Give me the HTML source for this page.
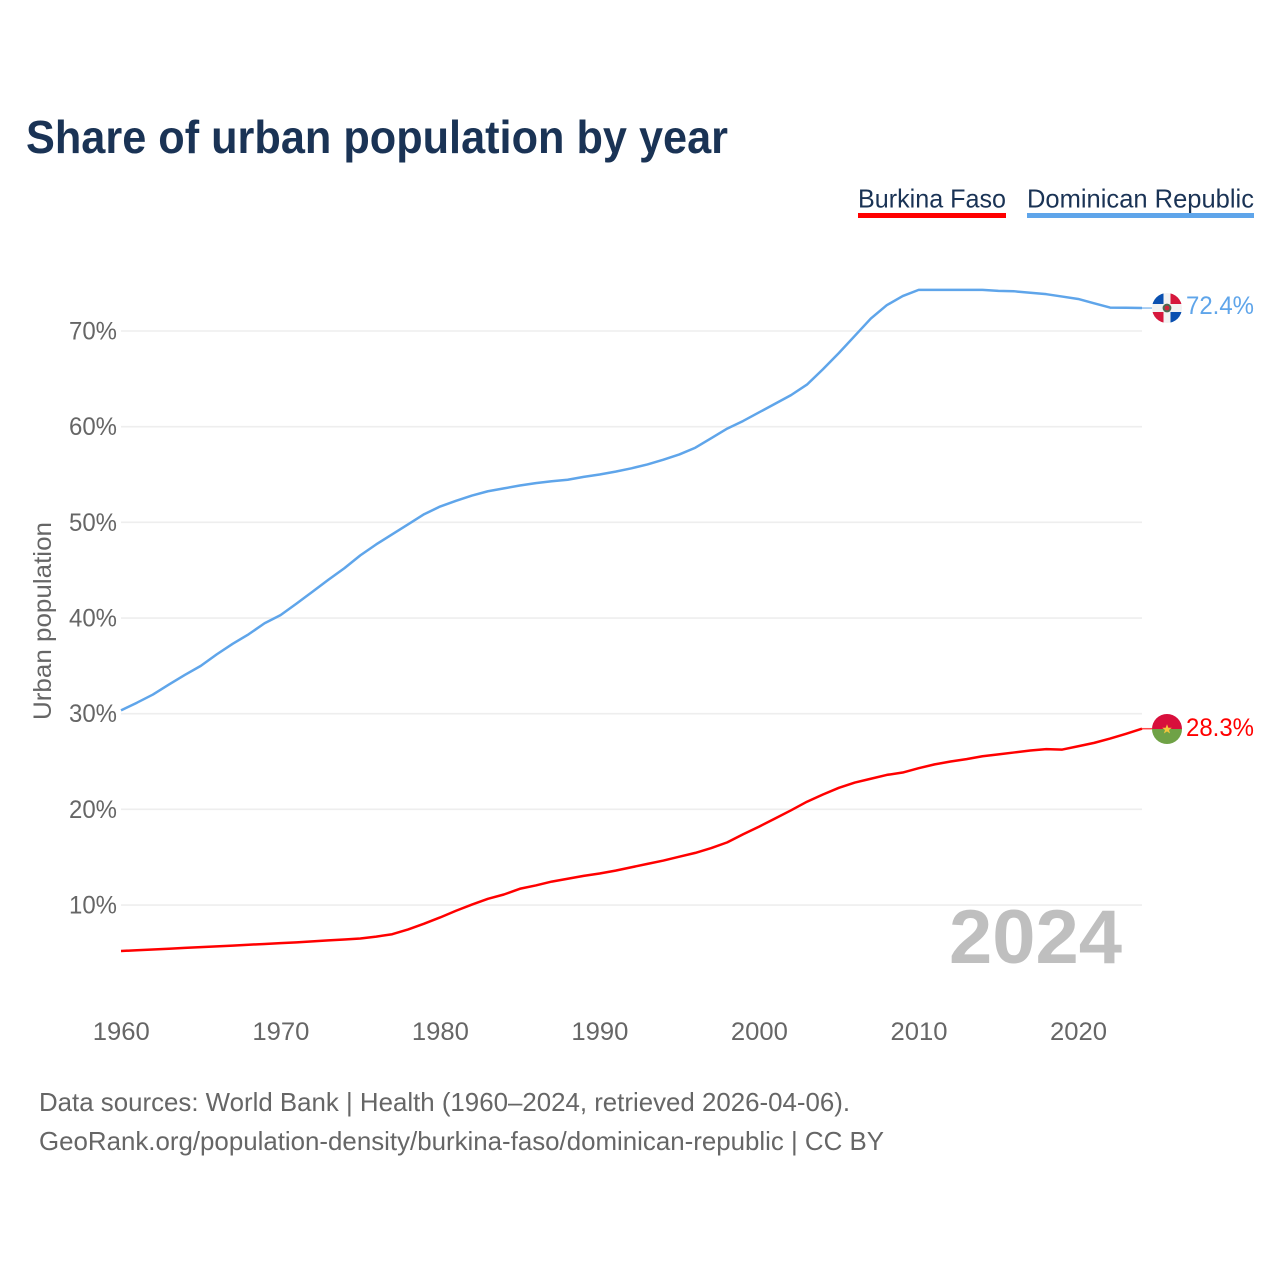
<!DOCTYPE html>
<html lang="en">
<head>
<meta charset="utf-8">
<title>Share of urban population by year</title>
<style>
html,body{margin:0;padding:0;background:#fff;}
svg{display:block;font-family:"Liberation Sans",sans-serif;}
</style>
</head>
<body>
<svg id="chart" width="1280" height="1280" viewBox="0 0 1280 1280" xmlns="http://www.w3.org/2000/svg">
  <rect x="0" y="0" width="1280" height="1280" fill="#ffffff"/>
  <text x="26" y="153" font-size="46" font-weight="700" fill="#1a3355" textLength="702" lengthAdjust="spacingAndGlyphs">Share of urban population by year</text>

  <g>
    <text x="858" y="207.5" font-size="26" fill="#1a3355" textLength="148" lengthAdjust="spacingAndGlyphs">Burkina Faso</text>
    <rect x="858" y="213" width="148" height="5" fill="#ff0000"/>
  </g>
  <g>
    <text x="1027" y="207.5" font-size="26" fill="#1a3355" textLength="227" lengthAdjust="spacingAndGlyphs">Dominican Republic</text>
    <rect x="1027" y="213" width="227" height="5" fill="#5fa5ea"/>
  </g>

  <g id="grid"></g>
  <g id="yticks"></g>
  <g id="xticks"></g>

  <text transform="translate(51 720) rotate(-90)" x="0" y="0" font-size="25" fill="#666666" textLength="198" lengthAdjust="spacingAndGlyphs">Urban population</text>
  <text x="949" y="963" font-size="76" font-weight="700" fill="#bfbfbf" textLength="173" lengthAdjust="spacingAndGlyphs">2024</text>

  <g id="series"></g>

  <defs>
    <clipPath id="flag-dr-clip"><circle cx="1167" cy="308" r="15"/></clipPath>
    <clipPath id="flag-bf-clip"><circle id="flag-bf-circle" cx="1167" cy="729" r="15"/></clipPath>
  </defs>

  <g id="flag-dr" clip-path="url(#flag-dr-clip)">
    <rect x="1152" y="293" width="30" height="30" fill="#f2f2f2"/>
    <rect x="1152" y="293" width="11.5" height="11" fill="#0a50b0"/>
    <rect x="1170.5" y="293" width="11.5" height="11" fill="#d6173c"/>
    <rect x="1152" y="312" width="11.5" height="11" fill="#d6173c"/>
    <rect x="1170.5" y="312" width="11.5" height="11" fill="#0a50b0"/>
    <circle cx="1167" cy="308" r="4.4" fill="#4a6a50"/>
    <circle cx="1167" cy="308" r="2.4" fill="#c8283c"/>
  </g>
  <g id="flag-bf" clip-path="url(#flag-bf-clip)">
    <rect x="1152" y="714" width="30" height="15" fill="#d80f3c"/>
    <rect x="1152" y="729" width="30" height="15" fill="#6fa246"/>
    <polygon points="1167,724.3 1168.3,727.7 1171.8,727.7 1169,730 1170.1,733.5 1167,731.4 1163.9,733.5 1165,730 1162.2,727.7 1165.7,727.7" fill="#f4c63c"/>
  </g>

  <text id="value-dr" x="1186" y="314" font-size="25" fill="#5fa5ea" textLength="68" lengthAdjust="spacingAndGlyphs">72.4%</text>
  <text id="value-bf" x="1186" y="736" font-size="25" fill="#ff0000" textLength="68" lengthAdjust="spacingAndGlyphs">28.3%</text>

  <text x="39" y="1111" font-size="26" fill="#666666" textLength="811" lengthAdjust="spacingAndGlyphs">Data sources: World Bank | Health (1960–2024, retrieved 2026-04-06).</text>
  <text x="39" y="1150" font-size="26" fill="#666666" textLength="845" lengthAdjust="spacingAndGlyphs">GeoRank.org/population-density/burkina-faso/dominican-republic | CC BY</text>
</svg>

<script>
var years = [1960,1961,1962,1963,1964,1965,1966,1967,1968,1969,1970,1971,1972,1973,1974,1975,1976,1977,1978,1979,1980,1981,1982,1983,1984,1985,1986,1987,1988,1989,1990,1991,1992,1993,1994,1995,1996,1997,1998,1999,2000,2001,2002,2003,2004,2005,2006,2007,2008,2009,2010,2011,2012,2013,2014,2015,2016,2017,2018,2019,2020,2021,2022,2023,2024];
var dominicanRepublic = [30.35,31.15,32.0,33.05,34.05,35.0,36.2,37.3,38.3,39.45,40.3,41.5,42.75,44.0,45.2,46.55,47.7,48.75,49.8,50.85,51.65,52.25,52.8,53.25,53.55,53.85,54.1,54.3,54.45,54.75,55.0,55.3,55.65,56.05,56.55,57.1,57.8,58.8,59.8,60.6,61.5,62.4,63.3,64.4,66.0,67.7,69.5,71.3,72.7,73.65,74.3,74.3,74.3,74.3,74.3,74.2,74.15,74.0,73.85,73.6,73.35,72.9,72.45,72.43,72.4];
var burkinaFaso = [5.2,5.27,5.35,5.43,5.52,5.6,5.68,5.76,5.85,5.93,6.02,6.1,6.2,6.3,6.4,6.5,6.7,6.95,7.45,8.05,8.7,9.4,10.05,10.65,11.1,11.7,12.05,12.45,12.75,13.05,13.3,13.6,13.95,14.3,14.65,15.05,15.45,15.95,16.55,17.4,18.2,19.05,19.9,20.8,21.55,22.25,22.8,23.2,23.6,23.85,24.3,24.7,25.0,25.25,25.55,25.75,25.95,26.15,26.3,26.25,26.6,26.95,27.4,27.9,28.43];
var yTickValues = [10,20,30,40,50,60,70];
var yTickLabels = ["10%","20%","30%","40%","50%","60%","70%"];
var xTickValues = [1960,1970,1980,1990,2000,2010,2020];
var xTickLabels = ["1960","1970","1980","1990","2000","2010","2020"];

var NS = "http://www.w3.org/2000/svg";
function xScale(year){ return 121 + (year - 1960) * (1142 - 121) / 64; }
function yScale(v){ return 1000.7 - v * 9.567; }

function make(tag, attrs, parent, text){
  var el = document.createElementNS(NS, tag);
  for (var k in attrs) el.setAttribute(k, attrs[k]);
  if (text !== undefined) el.textContent = text;
  parent.appendChild(el);
  return el;
}

var gridG = document.getElementById("grid");
var yG = document.getElementById("yticks");
yTickValues.forEach(function(v, i){
  var y = yScale(v);
  var line = make("line", {x1:121, x2:1142, y1:y, y2:y, stroke:"#eeeeee", "stroke-width":1.6}, gridG);
  
  
  var t = make("text", {x:117, y:y+8.5, "text-anchor":"end", "font-size":25, fill:"#666666", textLength:48, lengthAdjust:"spacingAndGlyphs"}, yG, yTickLabels[i]);
  
  
});

var xG = document.getElementById("xticks");
xTickValues.forEach(function(v, i){
  var t = make("text", {x:xScale(v)-28.2, y:1040, "font-size":25, fill:"#666666", textLength:57, lengthAdjust:"spacingAndGlyphs"}, xG, xTickLabels[i]);
  
  
});

function pathFor(values){
  return values.map(function(v, i){
    return (i ? "L" : "M") + xScale(years[i]).toFixed(2) + " " + yScale(v).toFixed(2);
  }).join(" ");
}

var seriesG = document.getElementById("series");
var lineDr = make("path", {d:pathFor(dominicanRepublic), fill:"none", stroke:"#5fa5ea", "stroke-width":2.5, "stroke-linejoin":"round"}, seriesG);


var lineBf = make("path", {d:pathFor(burkinaFaso), fill:"none", stroke:"#ff0000", "stroke-width":2.5, "stroke-linejoin":"round"}, seriesG);



var lastDr = yScale(dominicanRepublic[dominicanRepublic.length - 1]);
var lastBf = yScale(burkinaFaso[burkinaFaso.length - 1]);
var connDr = make("line", {x1:1142, x2:1152, y1:lastDr, y2:lastDr, stroke:"#5fa5ea", "stroke-width":1.5, opacity:0.7}, seriesG);


var connBf = make("line", {x1:1142, x2:1152, y1:lastBf, y2:lastBf, stroke:"#ff0000", "stroke-width":1.5, opacity:0.7}, seriesG);


</script>
</body>
</html>
